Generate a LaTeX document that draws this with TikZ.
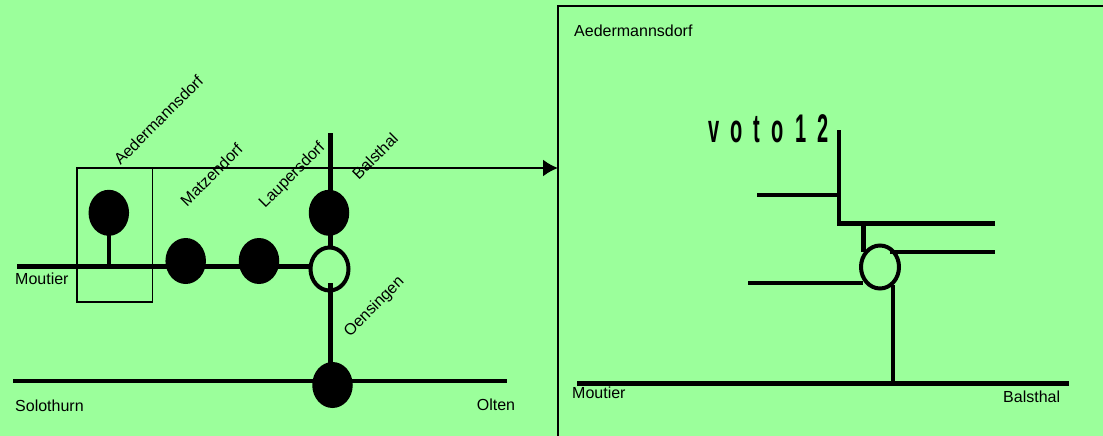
\documentclass[tikz,border=0pt]{standalone}
\usepackage{fontspec}
\setmainfont{Liberation Sans}
\newfontfamily\votofont[FakeStretch=0.5,LetterSpace=28]{Liberation Sans Bold}
\usetikzlibrary{shapes.geometric,arrows.meta}
\definecolor{bg}{RGB}{155,255,155}
\tikzset{
  track/.style={draw=black,line width=4.4pt},
  thin box/.style={draw=black,line width=1.6pt},
  halt/.style={ellipse,fill=black,draw=none,inner sep=0pt,minimum width=40.5pt,minimum height=46pt},
  junction/.style={ellipse,draw=black,line width=4pt,inner sep=0pt,minimum width=38pt,minimum height=43pt},
  lbl/.style={font=\fontsize{16}{18}\selectfont,inner sep=0pt,text=black},
  lblw/.style={lbl,anchor=west},
  lblr/.style={lbl,rotate=45},
}
\begin{document}
\begin{tikzpicture}[x=1pt,y=-1pt]
\useasboundingbox (0,0) rectangle (1103,436);
\fill[bg] (0,0) rectangle (1103,436);
% free ends
\coordinate (mw) at (17,266.3);
\coordinate (me) at (311,266.3);
\coordinate (vt) at (330.5,133);
\coordinate (sw) at (13,380.7);
\coordinate (se) at (507,380.7);
\coordinate (ve) at (330.5,283);
\coordinate (stem) at (108.8,266.3);
% nodes left
\node[halt] (aed) at (108.8,212.8) {};
\node[halt] (mat) at (185.7,261) {};
\node[halt] (lau) at (259,261) {};
\node[halt] (bal) at (329,212.8) {};
\node[junction] (jun) at (329.5,269) {};
\node[halt] (oen) at (332.5,385) {};
% selection frame and big frame
\node[thin box,minimum width=75.5pt,minimum height=134pt,inner sep=0pt,outer sep=0pt] (sel) at (114.8,235) {};
\coordinate (ft) at (1105,6.5);
\coordinate (fb) at (558,438);
\coordinate (fc) at (558,6.5);
\draw[thin box,line width=2pt] (fb) -- (fc) -- (ft);
\coordinate (at) at (558,168);
\draw[line width=2pt,-{Latex[length=15pt,width=17pt]}] (sel.north east) -- (sel.north east -| at);
% tracks left
\draw[track] (mw) -- (me);
\draw[track] (sw) -- (se);
\draw[track] (vt) -- (vt |- bal.center);
\draw[track] (vt |- bal.center) -- (vt |- jun.north);
\draw[track] (ve) -- (ve |- oen.center);
\draw[track] (aed.center) -- (stem);
% labels left
\node[lblw] (l1) at (15,279) {Moutier};
\node[lblw] (l2) at (15,406) {Solothurn};
\node[lblw] (l3) at (476.6,405) {Olten};
\node[lblr] (l4) at (158.5,120) {Aedermannsdorf};
\node[lblr] (l5) at (211.5,175) {Matzendorf};
\node[lblr] (l6) at (292.5,175.5) {Laupersdorf};
\node[lblr] (l7) at (375,156) {Balsthal};
\node[lblr] (l8) at (374.5,307) {Oensingen};
% right detail
\node[junction] (jr) at (880,267) {};
\coordinate (a1) at (839.2,130);
\coordinate (a2) at (839.2,223.5);
\coordinate (a3) at (995,223.5);
\coordinate (b1) at (757,195);
\coordinate (b2) at (839.2,195);
\coordinate (c1) at (863.6,223.5);
\coordinate (c2) at (863.6,252);
\coordinate (d1) at (890,251.7);
\coordinate (d2) at (995,251.7);
\coordinate (e1) at (748,282.7);
\coordinate (e2) at (863,282.7);
\coordinate (f1) at (893,285);
\coordinate (f2) at (893,383.3);
\coordinate (g1) at (577,383.3);
\coordinate (g2) at (1069,383.3);
\draw[track] (a1) -- (a2);
\draw[track] ([xshift=-2pt]a2) -- (a3);
\draw[track] (b1) -- (b2);
\draw[track] (c1) -- (c2);
\draw[track] (d1) -- (d2);
\draw[track] (e1) -- (e2);
\draw[track] (f1) -- (f2);
\draw[track] (g1) -- (g2);
\node[lblw] (r1) at (574,31) {Aedermannsdorf};
\node[lblw] (r2) at (572,393) {Moutier};
\node[lblw] (r3) at (1003,397) {Balsthal};
\node[inner sep=0pt,anchor=base west,text=black] (vo) at (708,142) {\votofont\fontsize{40}{44}\selectfont voto12};
\end{tikzpicture}
\end{document}
